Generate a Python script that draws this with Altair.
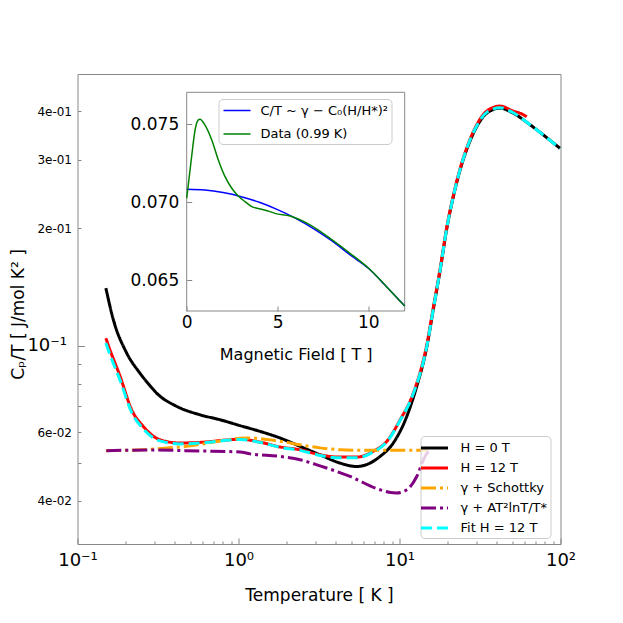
import altair as alt
import pandas as pd

# ---------------- main panel: Cp/T vs T (log-log) ----------------
T_h0 = [0.150, 0.167, 0.202, 0.244, 0.282, 0.310, 0.413, 0.577, 0.767, 1.02, 1.36, 1.81,
        2.41, 3.21, 4.27, 5.42, 6.56, 7.57, 9.15, 11.1, 12.8, 14.8, 16.2, 17.9, 19.6,
        21.6, 23.8, 26.1, 30.2, 34.8, 42.1, 50.9, 64.7, 78.2, 99.3]
C_h0 = [0.1406, 0.1166, 0.0958, 0.0851, 0.0790, 0.0756, 0.0699, 0.0665, 0.0646, 0.0624,
        0.0603, 0.0580, 0.0552, 0.0525, 0.0500, 0.0490, 0.0500, 0.0520, 0.0563, 0.0659,
        0.0787, 0.0996, 0.1237, 0.1566, 0.1983, 0.2414, 0.2827, 0.318, 0.365, 0.395,
        0.407, 0.395, 0.369, 0.3475, 0.321]

T_h12 = [0.150, 0.159, 0.184, 0.217, 0.256, 0.325, 0.433, 0.577, 0.886, 1.02, 1.36, 1.81,
         2.41, 3.21, 4.27, 5.42, 6.88, 8.32, 10.1, 12.2, 14.8, 16.2, 17.9, 19.6, 21.6,
         23.8, 26.1, 30.2, 34.8, 42.1, 50.9, 57.0, 61.7]
C_h12 = [0.1046, 0.0977, 0.0834, 0.0685, 0.0621, 0.0574, 0.0563, 0.0565, 0.0574, 0.0576,
         0.0566, 0.0550, 0.0541, 0.0525, 0.0518, 0.0518, 0.0536, 0.0568, 0.0646, 0.0757,
         0.101, 0.125, 0.158, 0.200, 0.243, 0.285, 0.321, 0.369, 0.400, 0.412, 0.400,
         0.394, 0.387]

T_sch = [0.150, 0.250, 0.350, 0.476, 0.700, 0.886, 1.02, 1.20, 1.36, 1.81, 2.41, 3.21,
         4.27, 6.0, 9.0, 12.0, 15.1]
C_sch = [0.0538, 0.0541, 0.0546, 0.0552, 0.0566, 0.0575, 0.0579, 0.0580, 0.0577, 0.0569,
         0.0557, 0.0547, 0.0541, 0.0539, 0.0539, 0.0539, 0.0539]

T_log = [0.151, 0.282, 0.577, 1.02, 1.18, 1.81, 2.41, 3.21, 4.93, 7.57, 8.6, 9.6, 11.1,
         12.8, 14.4, 15.1]
C_log = [0.0538, 0.0540, 0.0537, 0.0534, 0.0528, 0.0520, 0.0510, 0.0492, 0.0462, 0.0427,
         0.0421, 0.0419, 0.0427, 0.0462, 0.0520, 0.0536]

T_fit = [0.150, 0.159, 0.184, 0.217, 0.256, 0.325, 0.433, 0.577, 0.886, 1.02, 1.36, 1.81,
         2.41, 3.21, 4.27, 5.42, 6.88, 8.32, 10.1, 12.2, 14.8, 16.2, 17.9, 19.6, 21.6,
         23.8, 26.1, 30.2, 34.8, 42.1, 50.9, 64.7, 78.2, 99.3]
C_fit = [0.1016, 0.0950, 0.0815, 0.0675, 0.0612, 0.0570, 0.0560, 0.0563, 0.0573, 0.0575,
         0.0565, 0.0549, 0.0539, 0.0523, 0.0516, 0.0516, 0.0534, 0.0566, 0.0644, 0.0755,
         0.1000, 0.124, 0.157, 0.199, 0.242, 0.284, 0.320, 0.367, 0.397, 0.408, 0.396,
         0.369, 0.3475, 0.321]

series = ["H = 0 T", "H = 12 T", "γ + Schottky", "γ + AT²lnT/T*", "Fit H = 12 T"]
series_colors = ["#000000", "#ff0000", "#ffa500", "#800080", "#00ffff"]
series_dashes = [[1, 0], [1, 0], [15, 4, 3, 4], [15, 4, 3, 4], [11, 5]]

x_domain = [0.1, 100]
y_domain = [0.031, 0.498]
x_ticks_major = [0.1, 1, 10, 100]
x_ticks_minor = [0.2, 0.3, 0.4, 0.5, 0.6, 0.7, 0.8, 0.9, 2, 3, 4, 5, 6, 7, 8, 9,
                 20, 30, 40, 50, 60, 70, 80, 90]
y_ticks_major = [0.1]
y_ticks_minor = [0.04, 0.05, 0.06, 0.07, 0.08, 0.09, 0.2, 0.3, 0.4]

# ---------------- inset: C/T vs magnetic field ----------------
H_model = [0, 1, 2, 3, 4, 5, 6, 7, 8, 9, 10, 11, 12]
C_model = [0.07083, 0.07078, 0.07062, 0.07036, 0.07000, 0.06953, 0.06897, 0.06830,
           0.06752, 0.06662, 0.06577, 0.06459, 0.06335]
H_data = [0.0, 0.27, 0.46, 0.64, 0.73, 1.0, 1.38, 1.74, 2.11, 2.48, 2.84, 3.21, 3.58,
          4.13, 4.58, 4.86, 5.69, 6.79, 7.89, 8.99, 10.02, 11.0, 12.0]
C_data = [0.07026, 0.07292, 0.07463, 0.07528, 0.07532, 0.07496, 0.07399, 0.07271, 0.07164,
          0.07090, 0.07040, 0.07004, 0.06972, 0.06955, 0.06940, 0.06929, 0.06912, 0.06855,
          0.06769, 0.06673, 0.06577, 0.06459, 0.06335]
inset_names = ["C/T ~ γ − C₀(H/H*)²", "Data (0.99 K)"]
inset_colors = ["#0000ff", "#008000"]
inset_x_domain = [0, 12]
inset_y_domain = [0.06303, 0.07705]
inset_x_ticks = [0, 5, 10]
inset_y_ticks = [0.065, 0.070, 0.075]

# ---------------- layout ----------------
W, H = 483, 470
GRAY = "#888888"

color_scale = alt.Scale(domain=series, range=series_colors)
dash_scale = alt.Scale(domain=series, range=series_dashes)

legend_main = alt.Legend(
    orient="none", legendX=343, legendY=362, title=None,
    symbolType="M-1.8,0H1.8", symbolSize=225, symbolStrokeWidth=3,
    labelFontSize=13, labelFont="DejaVu Sans", labelColor="#000000",
    padding=3, rowPadding=4, symbolOffset=2, labelOffset=17,
    fillColor="rgba(255,255,255,0.8)", strokeColor="#cccccc", cornerRadius=4,
)

ax_x_major = alt.Axis(
    orient="bottom", values=x_ticks_major, tickSize=6, offset=-6, zindex=1,
    labelExpr="datum.value < 0.5 ? '10⁻¹' : datum.value < 5 ? '10⁰' : datum.value < 50 ? '10¹' : '10²'",
    labelFontSize=18, labelPadding=7, labelFlush=False, labelOverlap=False,
    title="Temperature [ K ]", titleFontSize=17, titleX=W / 2, titleY=62,
    titleBaseline="alphabetic", titleAlign="center",
)
ax_x_minor = alt.Axis(
    orient="bottom", values=x_ticks_minor, tickSize=3, offset=-3, zindex=1,
    labels=False, title=None,
)
ax_y_major = alt.Axis(
    orient="left", values=y_ticks_major, tickSize=7, offset=-7, zindex=1,
    labelExpr="'10⁻¹'", labelFontSize=18, labelPadding=11, labelOverlap=False,
    labelFlush=False,
    title="Cₚ/T [ J/mol K² ]", titleFontSize=17, titleX=-66.5, titleY=240,
    titleAngle=270, titleBaseline="middle", titleAlign="center",
)
ax_y_minor = alt.Axis(
    orient="left", values=y_ticks_minor, tickSize=3.5, offset=-3.5, zindex=1,
    labelExpr="datum.value == 0.4 ? '4e-01' : datum.value == 0.3 ? '3e-01' : datum.value == 0.2 ? '2e-01' : datum.value == 0.06 ? '6e-02' : datum.value == 0.04 ? '4e-02' : ''",
    labelFontSize=12, labelPadding=6, labelOverlap=False, labelFlush=False, title=None,
)


def main_line(ts, cs, name, xaxis=None, yaxis=None):
    d = pd.DataFrame({"T": ts, "C": cs, "series": name})
    return alt.Chart(d).mark_line(strokeWidth=3, interpolate="monotone").encode(
        x=alt.X("T:Q", scale=alt.Scale(type="log", domain=x_domain, nice=False), axis=xaxis),
        y=alt.Y("C:Q", scale=alt.Scale(type="log", domain=y_domain, nice=False), axis=yaxis),
        color=alt.Color("series:N", scale=color_scale, legend=legend_main),
        strokeDash=alt.StrokeDash("series:N", scale=dash_scale, legend=legend_main),
    )


# inset placement inside the main plot area (pixels)
IX0, IX1 = 109.2, 327.2
IY0, IY1 = 237.0, 18.3
TK = 5


def ix_scale():
    return alt.Scale(domain=inset_x_domain, range=[IX0, IX1], nice=False, zero=False)


def iy_scale():
    return alt.Scale(domain=inset_y_domain, range=[IY0, IY1], nice=False, zero=False)


inset_stroke = alt.Scale(domain=inset_names, range=inset_colors)

ax_ix = alt.Axis(
    orient="bottom", values=inset_x_ticks, tickSize=TK, offset=-(H - IY0) - TK, zindex=1,
    labelFontSize=17, labelPadding=3, labelFlush=False, labelOverlap=False,
    title="Magnetic Field [ T ]", titleFontSize=16, titleX=(IX0 + IX1) / 2, titleY=53,
    titleBaseline="alphabetic", titleAlign="center",
)
ax_iy = alt.Axis(
    orient="left", values=inset_y_ticks, tickSize=TK, offset=-IX0 - TK, format=".3f",
    zindex=1, labelFontSize=17, labelPadding=8, labelFlush=False, labelOverlap=False,
    title=None,
)
legend_inset = alt.Legend(
    orient="none", legendX=141, legendY=25, title=None,
    symbolType="M-1.8,0H1.8", symbolSize=225, symbolStrokeWidth=1.5,
    labelFontSize=13, labelFont="DejaVu Sans", labelColor="#000000",
    padding=3, rowPadding=7.5, symbolOffset=7, labelOffset=15,
    fillColor="rgba(255,255,255,0.8)", strokeColor="#cccccc", cornerRadius=4,
)

frame_df = pd.DataFrame({
    "x0": [inset_x_domain[0]], "x1": [inset_x_domain[1]],
    "y0": [inset_y_domain[0]], "y1": [inset_y_domain[1]],
})
inset_frame = alt.Chart(frame_df).mark_rect(fill="white", stroke=GRAY, strokeWidth=1).encode(
    x=alt.X("x0:Q", scale=ix_scale(), axis=None), x2="x1:Q",
    y=alt.Y("y0:Q", scale=iy_scale(), axis=None), y2="y1:Q",
)


def inset_line(hs, cs, name, xaxis=None, yaxis=None):
    d = pd.DataFrame({"H": hs, "C": cs, "series": name})
    return alt.Chart(d).mark_line(strokeWidth=1.5, interpolate="monotone").encode(
        x=alt.X("H:Q", scale=ix_scale(), axis=xaxis),
        y=alt.Y("C:Q", scale=iy_scale(), axis=yaxis),
        stroke=alt.Stroke("series:N", scale=inset_stroke, legend=legend_inset),
    )


chart = alt.layer(
    main_line(T_h0, C_h0, series[0], ax_x_major, ax_y_major),
    main_line(T_h12, C_h12, series[1], ax_x_minor, ax_y_minor),
    main_line(T_sch, C_sch, series[2]),
    main_line(T_log, C_log, series[3]),
    main_line(T_fit, C_fit, series[4]),
    inset_frame,
    inset_line(H_model, C_model, inset_names[0], ax_ix, ax_iy),
    inset_line(H_data, C_data, inset_names[1]),
).resolve_scale(
    x="independent", y="independent"
).properties(
    width=W, height=H,
    padding={"left": 69.5, "top": 66, "right": 40, "bottom": 60},
    autosize=alt.AutoSizeParams(type="none"),
).configure(
    font="DejaVu Sans"
).configure_view(
    stroke=GRAY, strokeWidth=1
).configure_axis(
    grid=False, domain=False, labelFont="DejaVu Sans", titleFont="DejaVu Sans",
    titleFontWeight="normal", labelColor="#000000", titleColor="#000000",
    tickColor=GRAY, tickWidth=1,
)

chart.save("out.html", embed_options={"renderer": "svg", "actions": False})
